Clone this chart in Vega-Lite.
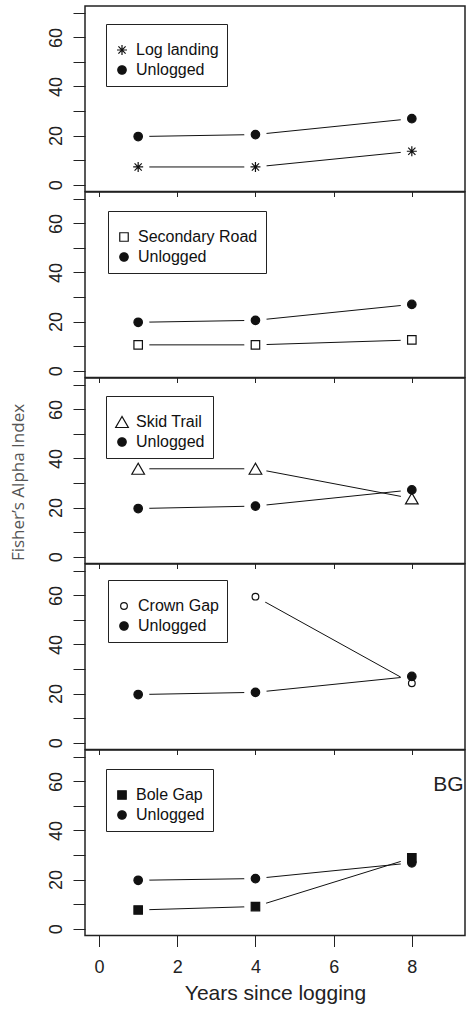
{
  "$schema": "https://vega.github.io/schema/vega-lite/v6.json",
  "padding": {"left": 8, "top": 5, "right": 0, "bottom": 0},
  "bounds": "flush",
  "spacing": 0,
  "datasets": {
    "pts": [
      {"panel": "LL", "series": "Log landing", "years": 1, "alpha": 7.2},
      {"panel": "LL", "series": "Log landing", "years": 4, "alpha": 7.2},
      {"panel": "LL", "series": "Log landing", "years": 8, "alpha": 13.6},
      {"panel": "LL", "series": "Unlogged", "years": 1, "alpha": 19.6},
      {"panel": "LL", "series": "Unlogged", "years": 4, "alpha": 20.4},
      {"panel": "LL", "series": "Unlogged", "years": 8, "alpha": 26.9},
      {"panel": "SR", "series": "Secondary Road", "years": 1, "alpha": 10.5},
      {"panel": "SR", "series": "Secondary Road", "years": 4, "alpha": 10.5},
      {"panel": "SR", "series": "Secondary Road", "years": 8, "alpha": 12.5},
      {"panel": "SR", "series": "Unlogged", "years": 1, "alpha": 19.7},
      {"panel": "SR", "series": "Unlogged", "years": 4, "alpha": 20.5},
      {"panel": "SR", "series": "Unlogged", "years": 8, "alpha": 27.0},
      {"panel": "ST", "series": "Skid Trail", "years": 1, "alpha": 35.8},
      {"panel": "ST", "series": "Skid Trail", "years": 4, "alpha": 35.8},
      {"panel": "ST", "series": "Skid Trail", "years": 8, "alpha": 23.7},
      {"panel": "ST", "series": "Unlogged", "years": 1, "alpha": 19.6},
      {"panel": "ST", "series": "Unlogged", "years": 4, "alpha": 20.6},
      {"panel": "ST", "series": "Unlogged", "years": 8, "alpha": 27.2},
      {"panel": "CG", "series": "Crown Gap", "years": 4, "alpha": 59.5},
      {"panel": "CG", "series": "Crown Gap", "years": 8, "alpha": 24.2},
      {"panel": "CG", "series": "Unlogged", "years": 1, "alpha": 19.6},
      {"panel": "CG", "series": "Unlogged", "years": 4, "alpha": 20.5},
      {"panel": "CG", "series": "Unlogged", "years": 8, "alpha": 27.0},
      {"panel": "BG", "series": "Bole Gap", "years": 1, "alpha": 7.6},
      {"panel": "BG", "series": "Bole Gap", "years": 4, "alpha": 9.0},
      {"panel": "BG", "series": "Bole Gap", "years": 8, "alpha": 28.8},
      {"panel": "BG", "series": "Unlogged", "years": 1, "alpha": 19.7},
      {"panel": "BG", "series": "Unlogged", "years": 4, "alpha": 20.4},
      {"panel": "BG", "series": "Unlogged", "years": 8, "alpha": 26.8}
    ],
    "ann": [
      {"years": 8.55, "alpha": 58.5, "label": "BG"}
    ]
  },
  "config": {
    "view": {"stroke": "#222", "strokeWidth": 1.5},
    "font": "Liberation Sans",
    "axis": {"grid": false, "tickColor": "#222", "labelColor": "#222", "titleColor": "#222", "labelFont": "Liberation Sans", "titleFont": "Liberation Sans", "titleFontWeight": "normal"},
    "legend": {
      "orient": "none",
      "strokeColor": "#222", "fillColor": "white", "padding": 8,
      "labelFontSize": 16, "labelFont": "Liberation Sans", "labelColor": "#111",
      "labelOffset": 6, "rowPadding": 4, "titleFontSize": 8, "titlePadding": 2,
      "symbolStrokeWidth": 1.2, "offset": 0
    }
  },
  "resolve": {
    "scale": {"shape": "independent", "fill": "independent", "size": "independent", "stroke": "independent"},
    "legend": {"shape": "independent", "fill": "independent", "size": "independent", "stroke": "independent"}
  },
  "vconcat": [
    {
      "width": 380, "height": 185.5,
      "data": {"name": "pts"},
      "transform": [{"filter": "datum.panel === 'LL'"}],
      "encoding": {
        "x": {"field": "years", "type": "quantitative", "scale": {"domain": [-0.36, 9.36], "nice": false, "zero": false},
              "axis": {"values": [0, 2, 4, 6, 8], "labels": false, "tickSize": 5, "domain": false, "title": null}},
        "y": {"field": "alpha", "type": "quantitative", "scale": {"domain": [-2.8, 72.8], "nice": false, "zero": false},
              "axis": {"values": [0, 10, 20, 30, 40, 50, 60, 70], "labelExpr": "datum.value % 20 === 0 ? datum.label : ''",
                       "labelAngle": 270, "labelAlign": "center", "labelBaseline": "bottom", "labelFontSize": 18,
                       "labelPadding": 8, "tickSize": 12, "domain": false, "title": null}}
      },
      "layer": [
        {"mark": {"type": "line", "color": "#111", "strokeWidth": 1}, "encoding": {"detail": {"field": "series"}}},
        {"mark": {"type": "point", "shape": "circle", "filled": true, "fill": "white", "size": 500, "opacity": 1, "strokeWidth": 0}},
        {"mark": {"type": "point", "filled": true, "opacity": 1, "strokeWidth": 1.2},
         "encoding": {
           "shape": {"field": "series", "type": "nominal", "scale": {"domain": ["Log landing", "Unlogged"], "range": ["M-1,0L1,0M0,-1L0,1M-0.72,-0.72L0.72,0.72M-0.72,0.72L0.72,-0.72", "circle"]},
                     "legend": {"title": "\u00a0", "legendX": 21, "legendY": 18}},
           "fill": {"field": "series", "type": "nominal", "scale": {"domain": ["Log landing", "Unlogged"], "range": ["white", "#111"]},
                     "legend": {"title": "\u00a0", "legendX": 21, "legendY": 18}},
           "stroke": {"field": "series", "type": "nominal", "scale": {"domain": ["Log landing", "Unlogged"], "range": ["#111", "#111"]},
                     "legend": {"title": "\u00a0", "legendX": 21, "legendY": 18}},
           "size": {"field": "series", "type": "nominal", "scale": {"type": "ordinal", "domain": ["Log landing", "Unlogged"], "range": [100, 72]},
                     "legend": {"title": "\u00a0", "legendX": 21, "legendY": 18}}
         }}
      ]
    },
    {
      "width": 380, "height": 185.5,
      "data": {"name": "pts"},
      "transform": [{"filter": "datum.panel === 'SR'"}],
      "encoding": {
        "x": {"field": "years", "type": "quantitative", "scale": {"domain": [-0.36, 9.36], "nice": false, "zero": false},
              "axis": {"values": [0, 2, 4, 6, 8], "labels": false, "tickSize": 5, "domain": false, "title": null}},
        "y": {"field": "alpha", "type": "quantitative", "scale": {"domain": [-2.8, 72.8], "nice": false, "zero": false},
              "axis": {"values": [0, 10, 20, 30, 40, 50, 60, 70], "labelExpr": "datum.value % 20 === 0 ? datum.label : ''",
                       "labelAngle": 270, "labelAlign": "center", "labelBaseline": "bottom", "labelFontSize": 18,
                       "labelPadding": 8, "tickSize": 12, "domain": false, "title": null}}
      },
      "layer": [
        {"mark": {"type": "line", "color": "#111", "strokeWidth": 1}, "encoding": {"detail": {"field": "series"}}},
        {"mark": {"type": "point", "shape": "circle", "filled": true, "fill": "white", "size": 500, "opacity": 1, "strokeWidth": 0}},
        {"mark": {"type": "point", "filled": true, "opacity": 1, "strokeWidth": 1.2},
         "encoding": {
           "shape": {"field": "series", "type": "nominal", "scale": {"domain": ["Secondary Road", "Unlogged"], "range": ["square", "circle"]},
                     "legend": {"title": "\u00a0", "legendX": 23, "legendY": 19}},
           "fill": {"field": "series", "type": "nominal", "scale": {"domain": ["Secondary Road", "Unlogged"], "range": ["white", "#111"]},
                     "legend": {"title": "\u00a0", "legendX": 23, "legendY": 19}},
           "stroke": {"field": "series", "type": "nominal", "scale": {"domain": ["Secondary Road", "Unlogged"], "range": ["#111", "#111"]},
                     "legend": {"title": "\u00a0", "legendX": 23, "legendY": 19}},
           "size": {"field": "series", "type": "nominal", "scale": {"type": "ordinal", "domain": ["Secondary Road", "Unlogged"], "range": [72, 72]},
                     "legend": {"title": "\u00a0", "legendX": 23, "legendY": 19}}
         }}
      ]
    },
    {
      "width": 380, "height": 185.5,
      "data": {"name": "pts"},
      "transform": [{"filter": "datum.panel === 'ST'"}],
      "encoding": {
        "x": {"field": "years", "type": "quantitative", "scale": {"domain": [-0.36, 9.36], "nice": false, "zero": false},
              "axis": {"values": [0, 2, 4, 6, 8], "labels": false, "tickSize": 5, "domain": false, "title": null}},
        "y": {"field": "alpha", "type": "quantitative", "scale": {"domain": [-2.8, 72.8], "nice": false, "zero": false},
              "axis": {"values": [0, 10, 20, 30, 40, 50, 60, 70], "labelExpr": "datum.value % 20 === 0 ? datum.label : ''",
                       "labelAngle": 270, "labelAlign": "center", "labelBaseline": "bottom", "labelFontSize": 18,
                       "labelPadding": 8, "tickSize": 12, "domain": false,
                       "title": "Fisher’s Alpha Index", "titleFont": "Open Sans", "titleFontSize": 17, "titleColor": "#555",
                       "titlePadding": 20, "titleY": 104}}
      },
      "layer": [
        {"mark": {"type": "line", "color": "#111", "strokeWidth": 1}, "encoding": {"detail": {"field": "series"}}},
        {"mark": {"type": "point", "shape": "circle", "filled": true, "fill": "white", "size": 500, "opacity": 1, "strokeWidth": 0}},
        {"mark": {"type": "point", "filled": true, "opacity": 1, "strokeWidth": 1.2},
         "encoding": {
           "shape": {"field": "series", "type": "nominal", "scale": {"domain": ["Skid Trail", "Unlogged"], "range": ["triangle-up", "circle"]},
                     "legend": {"title": "\u00a0", "legendX": 21, "legendY": 18}},
           "fill": {"field": "series", "type": "nominal", "scale": {"domain": ["Skid Trail", "Unlogged"], "range": ["white", "#111"]},
                     "legend": {"title": "\u00a0", "legendX": 21, "legendY": 18}},
           "stroke": {"field": "series", "type": "nominal", "scale": {"domain": ["Skid Trail", "Unlogged"], "range": ["#111", "#111"]},
                     "legend": {"title": "\u00a0", "legendX": 21, "legendY": 18}},
           "size": {"field": "series", "type": "nominal", "scale": {"type": "ordinal", "domain": ["Skid Trail", "Unlogged"], "range": [160, 72]},
                     "legend": {"title": "\u00a0", "legendX": 21, "legendY": 18}}
         }}
      ]
    },
    {
      "width": 380, "height": 185.5,
      "data": {"name": "pts"},
      "transform": [{"filter": "datum.panel === 'CG'"}],
      "encoding": {
        "x": {"field": "years", "type": "quantitative", "scale": {"domain": [-0.36, 9.36], "nice": false, "zero": false},
              "axis": {"values": [0, 2, 4, 6, 8], "labels": false, "tickSize": 5, "domain": false, "title": null}},
        "y": {"field": "alpha", "type": "quantitative", "scale": {"domain": [-2.8, 72.8], "nice": false, "zero": false},
              "axis": {"values": [0, 10, 20, 30, 40, 50, 60, 70], "labelExpr": "datum.value % 20 === 0 ? datum.label : ''",
                       "labelAngle": 270, "labelAlign": "center", "labelBaseline": "bottom", "labelFontSize": 18,
                       "labelPadding": 8, "tickSize": 12, "domain": false, "title": null}}
      },
      "layer": [
        {"mark": {"type": "line", "color": "#111", "strokeWidth": 1}, "encoding": {"detail": {"field": "series"}}},
        {"mark": {"type": "point", "shape": "circle", "filled": true, "fill": "white", "size": 500, "opacity": 1, "strokeWidth": 0}},
        {"mark": {"type": "point", "filled": true, "opacity": 1, "strokeWidth": 1.2},
         "encoding": {
           "shape": {"field": "series", "type": "nominal", "scale": {"domain": ["Crown Gap", "Unlogged"], "range": ["circle", "circle"]},
                     "legend": {"title": "\u00a0", "legendX": 23, "legendY": 16}},
           "fill": {"field": "series", "type": "nominal", "scale": {"domain": ["Crown Gap", "Unlogged"], "range": ["white", "#111"]},
                     "legend": {"title": "\u00a0", "legendX": 23, "legendY": 16}},
           "stroke": {"field": "series", "type": "nominal", "scale": {"domain": ["Crown Gap", "Unlogged"], "range": ["#111", "#111"]},
                     "legend": {"title": "\u00a0", "legendX": 23, "legendY": 16}},
           "size": {"field": "series", "type": "nominal", "scale": {"type": "ordinal", "domain": ["Crown Gap", "Unlogged"], "range": [45, 72]},
                     "legend": {"title": "\u00a0", "legendX": 23, "legendY": 16}}
         }}
      ]
    },
    {
      "width": 380, "height": 185.5,
      "data": {"name": "pts"},
      "transform": [{"filter": "datum.panel === 'BG'"}],
      "encoding": {
        "x": {"field": "years", "type": "quantitative", "scale": {"domain": [-0.36, 9.36], "nice": false, "zero": false},
              "axis": {"values": [0, 2, 4, 6, 8], "tickSize": 11, "labelFontSize": 18, "labelPadding": 12, "domain": false,
                       "title": "Years since logging", "titleFontSize": 21, "titlePadding": 6}},
        "y": {"field": "alpha", "type": "quantitative", "scale": {"domain": [-2.8, 72.8], "nice": false, "zero": false},
              "axis": {"values": [0, 10, 20, 30, 40, 50, 60, 70], "labelExpr": "datum.value % 20 === 0 ? datum.label : ''",
                       "labelAngle": 270, "labelAlign": "center", "labelBaseline": "bottom", "labelFontSize": 18,
                       "labelPadding": 8, "tickSize": 12, "domain": false, "title": null}}
      },
      "layer": [
        {"mark": {"type": "line", "color": "#111", "strokeWidth": 1}, "encoding": {"detail": {"field": "series"}}},
        {"mark": {"type": "point", "shape": "circle", "filled": true, "fill": "white", "size": 500, "opacity": 1, "strokeWidth": 0}},
        {"mark": {"type": "point", "filled": true, "opacity": 1, "strokeWidth": 1.2},
         "encoding": {
           "shape": {"field": "series", "type": "nominal", "scale": {"domain": ["Bole Gap", "Unlogged"], "range": ["square", "circle"]},
                     "legend": {"title": "\u00a0", "legendX": 21, "legendY": 19}},
           "fill": {"field": "series", "type": "nominal", "scale": {"domain": ["Bole Gap", "Unlogged"], "range": ["#111", "#111"]},
                     "legend": {"title": "\u00a0", "legendX": 21, "legendY": 19}},
           "stroke": {"field": "series", "type": "nominal", "scale": {"domain": ["Bole Gap", "Unlogged"], "range": ["#111", "#111"]},
                     "legend": {"title": "\u00a0", "legendX": 21, "legendY": 19}},
           "size": {"field": "series", "type": "nominal", "scale": {"type": "ordinal", "domain": ["Bole Gap", "Unlogged"], "range": [72, 72]},
                     "legend": {"title": "\u00a0", "legendX": 21, "legendY": 19}}
         }},
        {"data": {"name": "ann"},
         "mark": {"type": "text", "align": "left", "baseline": "middle", "fontSize": 21, "font": "Liberation Sans", "color": "#222"},
         "encoding": {"text": {"field": "label"}}}
      ]
    }
  ]
}
